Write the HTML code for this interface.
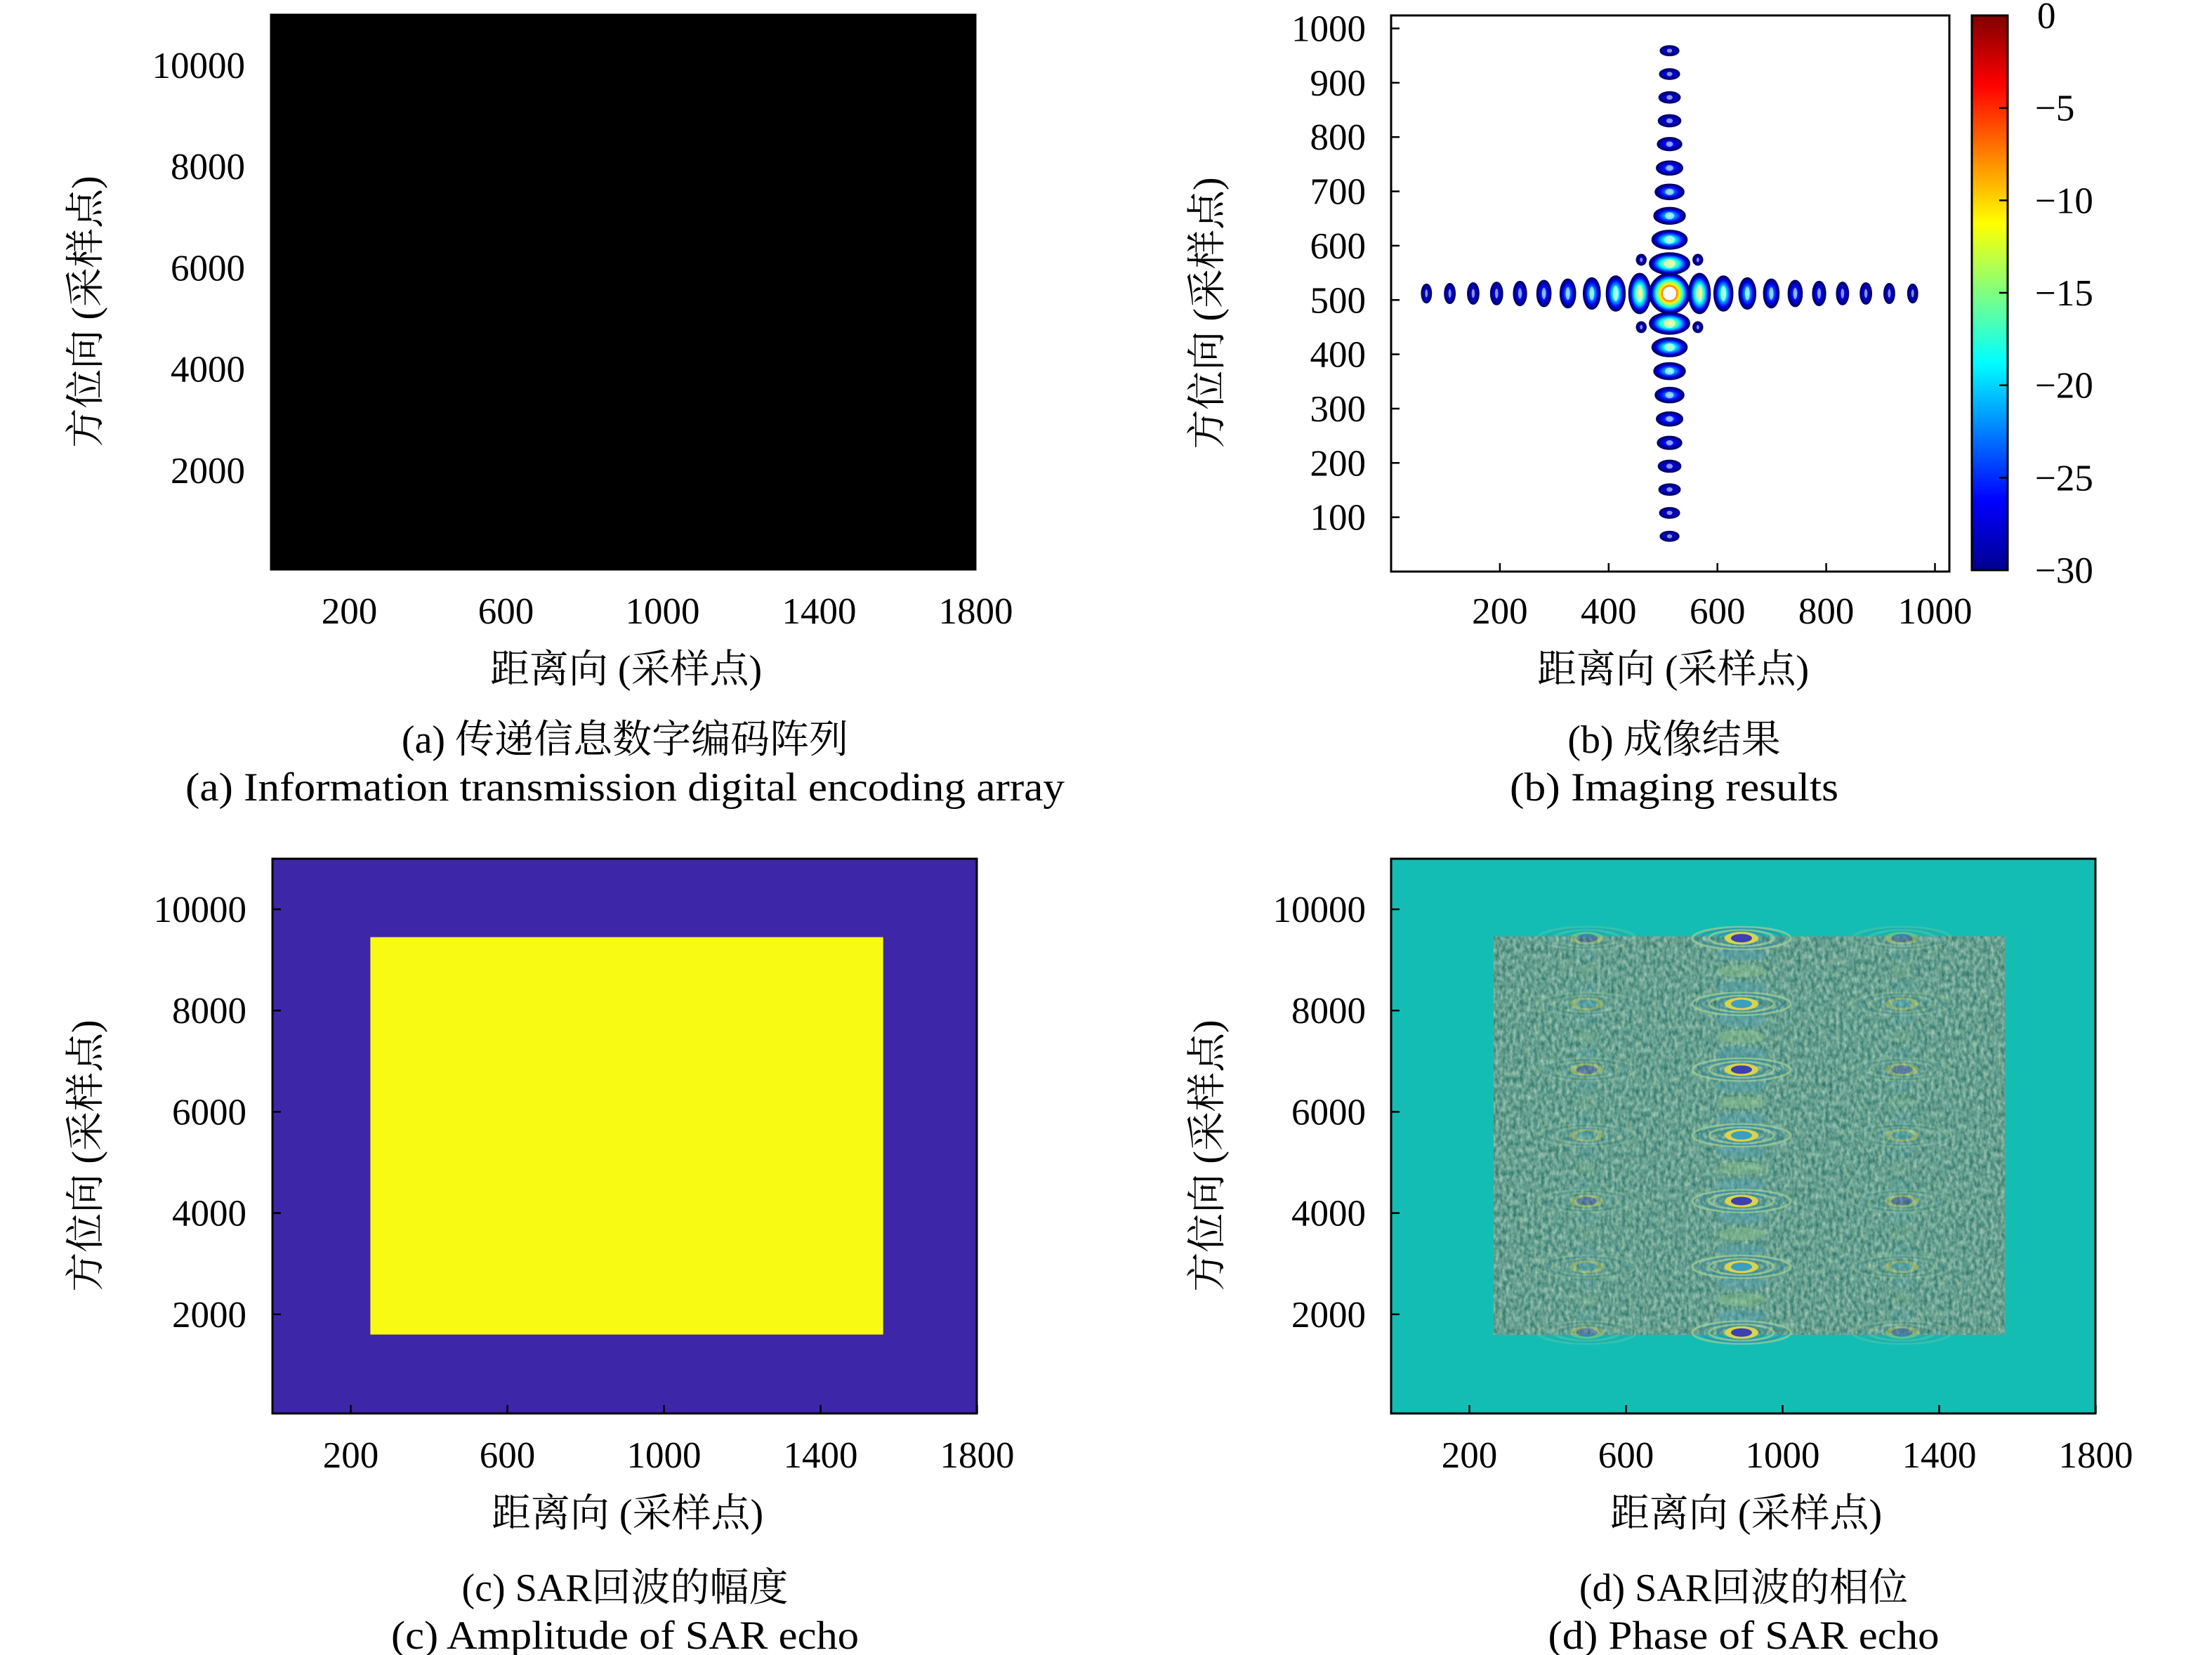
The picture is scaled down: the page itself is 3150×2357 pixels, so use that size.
<!DOCTYPE html>
<html><head><meta charset="utf-8"><style>
html,body{margin:0;padding:0;background:#fff;}
svg{display:block;}
text{font-family:"Liberation Serif","Noto Serif CJK SC",serif;fill:#000;}
</style></head><body>
<svg id="fig" xmlns="http://www.w3.org/2000/svg" width="3150" height="2357" viewBox="0 0 3150 2357">
<defs>
<linearGradient id="jetGrad" x1="0" y1="1" x2="0" y2="0">
<stop offset="0" stop-color="#00008f"/><stop offset="0.125" stop-color="#0000ff"/><stop offset="0.375" stop-color="#00ffff"/><stop offset="0.625" stop-color="#ffff00"/><stop offset="0.875" stop-color="#ff0000"/><stop offset="1" stop-color="#800000"/>
</linearGradient>
<filter id="noise" x="0" y="0" width="100%" height="100%" filterUnits="objectBoundingBox" color-interpolation-filters="sRGB">
<feTurbulence type="fractalNoise" baseFrequency="0.2 0.12" numOctaves="2" seed="3"/>
<feColorMatrix type="matrix" values="0.6 0 0 0 0.1  0.45 0 0 0 0.4  0.4 0 0 0 0.36  0 0 0 0 1"/>
</filter>
</defs>
<g id="root"></g>
</svg>
<script>
// ---- data ----
const bigXTicks=[200,600,1000,1400,1800];
const bigYTicks=[2000,4000,6000,8000,10000];
const bXTicks=[200,400,600,800,1000];
const bYTicks=[100,200,300,400,500,600,700,800,900,1000];
const cbTicks=[0,-5,-10,-15,-20,-25,-30];
const targetCenter=[512,512];
const lobeOffsets=[55,99,143,187,231,275,318,361,404,447];
const lobePeaks=[-12,-16,-19,-21,-23,-24.5,-26,-27,-28,-29];
const diagOffsets=[[52,62],[-52,62],[52,-62],[-52,-62]];
const diagPeak=-28;
const ampX=[250,1560];
const ampY=[1600,9450];
const phaseX=[262,1568];
const phaseY=[1600,9460];
const phaseRows=[9430,8132,6833,5535,4237,2938,1640];
const phaseCols=[500,895,1305];
const phaseColStrength=[0.35,1,0.35];

const NS='http://www.w3.org/2000/svg';
const root=document.getElementById('root');
function el(tag,attrs,parent,txt){const e=document.createElementNS(NS,tag);for(const k in attrs)e.setAttribute(k,attrs[k]);if(txt!==undefined)e.textContent=txt;(parent||root).appendChild(e);return e;}
function jet(v){
  let t=Math.max(0,Math.min(1,(v+30)/30));
  const f=(x)=>Math.max(0,Math.min(1,x));
  const r=f(1.5-Math.abs(4*t-3)), g=f(1.5-Math.abs(4*t-2)), b=f(1.5-Math.abs(4*t-1));
  return 'rgb('+Math.round(r*255)+','+Math.round(g*255)+','+Math.round(b*255)+')';
}

function makeBigPanel(ox,oy){
  return {x0:ox,x1:ox+1003,y0:oy,y1:oy+790,
    sx:v=>ox+v*0.5575, sy:v=>oy+793-v*0.0721};
}
const PA=makeBigPanel(386,21), PC=makeBigPanel(388,1223), PD=makeBigPanel(1981,1223);
const PB={x0:1981,x1:2776,y0:22,y1:814,sx:v=>1981+v*0.7745,sy:v=>814-v*0.7735};

function axesText(P,xt,yt,tickLen,xTickY,yLabX,name,xTitleY,yTitleX){
  const g=el('g',{});
  
  
  xt.forEach(v=>{
    const t=el('text',{x:P.sx(v),y:xTickY,'font-size':53,'text-anchor':'middle'},g,String(v));
    
    
    if(tickLen){const l=el('line',{x1:P.sx(v),x2:P.sx(v),y1:P.y1,y2:P.y1-tickLen,stroke:'#000','stroke-width':2.5},g);
      
      }
  });
  yt.forEach(v=>{
    const t=el('text',{x:yLabX,y:P.sy(v)+18,'font-size':53,'text-anchor':'end'},g,String(v));
    
    
    if(tickLen){const l=el('line',{x1:P.x0,x2:P.x0+tickLen,y1:P.sy(v),y2:P.sy(v),stroke:'#000','stroke-width':2.5},g);
      
      }
  });
  const cx=(P.x0+P.x1)/2, cy=(P.y0+P.y1)/2+28;
  const xt2=el('text',{x:cx+4,y:xTitleY,'font-size':56,'text-anchor':'middle'},g,'距离向 (采样点)');
  
  
  const yt2=el('text',{x:yTitleX,y:cy,'font-size':56,'text-anchor':'middle',transform:'rotate(-90 '+yTitleX+' '+cy+')'},g,'方位向 (采样点)');
  
  
  const b=el('rect',{x:P.x0,y:P.y0,width:P.x1-P.x0,height:P.y1-P.y0,fill:'none',stroke:'#000','stroke-width':3},g);
  
  
}
function captions(cx,y1,y2,l1,l2,name,len2){
  const a=el('text',{x:cx,y:y1,'font-size':56,'text-anchor':'middle'},root,l1);
  
  
  const b=el('text',{x:cx,y:y2,'font-size':57,'text-anchor':'middle',textLength:len2,lengthAdjust:'spacingAndGlyphs'},root,l2);
  
  
}

// ---- panel a ----
const ra=el('rect',{x:PA.x0,y:PA.y0,width:1003,height:790,fill:'#000'});


axesText(PA,bigXTicks,bigYTicks,0,888,349,'panel-a',972,141);
captions(890,1072,1140,'(a) 传递信息数字编码阵列','(a) Information transmission digital encoding array','panel-a',1252);

// ---- panel b ----
const gb=el('g',{});


function lobe(cxD,cyD,rxD,ryD,peak,center){
  const cx=PB.sx(cxD), cy=PB.sy(cyD), rx=rxD*0.7745, ry=ryD*0.7735;
  const g=el('g',{},gb);
  
  
  el('ellipse',{cx,cy,rx,ry,fill:jet(-28),stroke:'#00006a','stroke-width':3},g);
  const span=peak+30; const n=Math.max(1,Math.round(span/1.5));
  for(let i=1;i<=n;i++){
    const lv=-30+span*i/n, s=1-i/(n+0.6);
    el('ellipse',{cx,cy,rx:rx*Math.pow(s,0.7),ry:ry*Math.pow(s,0.7),fill:jet(lv)},g);
  }
  if(center) el('ellipse',{cx,cy,rx:rx*0.35,ry:ry*0.35,fill:'#fff'},g);
  else el('ellipse',{cx,cy,rx:rx*0.3,ry:ry*0.45,fill:'#fff',opacity:0.55},g);
}
lobeOffsets.forEach((off,k)=>{
  const p=lobePeaks[k], f=(p+31)/19;
  const w=7+12*f, h=14+22*f;
  lobe(targetCenter[0]+off,targetCenter[1],w,h,p);
  lobe(targetCenter[0]-off,targetCenter[1],w,h,p);
  lobe(targetCenter[0],targetCenter[1]+off,h,w,p);
  lobe(targetCenter[0],targetCenter[1]-off,h,w,p);
});
diagOffsets.forEach(d=>lobe(targetCenter[0]+d[0],targetCenter[1]+d[1],8,9,diagPeak));
lobe(targetCenter[0],targetCenter[1],36,36,0,true);
axesText(PB,bXTicks,bYTicks,12,888,1945,'panel-b',972,1738);
const CB={x0:2808,x1:2859,y0:22,y1:812};
const cbr=el('rect',{x:CB.x0,y:CB.y0,width:CB.x1-CB.x0,height:CB.y1-CB.y0,fill:'url(#jetGrad)',stroke:'#000','stroke-width':3});


cbTicks.forEach(v=>{
  const y=CB.y0+(0-v)/30*(CB.y1-CB.y0);
  const l=el('line',{x1:CB.x1-12,x2:CB.x1,y1:y,y2:y,stroke:'#000','stroke-width':2.5});
  
  
  const t=el('text',{x:v===0?2901:2898,y:y+18,'font-size':53},root,v===0?'0':'\u2212'+Math.abs(v));
  
  
});
captions(2384,1072,1140,'(b) 成像结果','(b) Imaging results','panel-b',468);

// ---- panel c ----
const rc=el('rect',{x:PC.x0,y:PC.y0,width:1003,height:790,fill:'#3e26a8'});


const yc=el('rect',{x:PC.sx(ampX[0]),y:PC.sy(ampY[1]),width:PC.sx(ampX[1])-PC.sx(ampX[0]),height:PC.sy(ampY[0])-PC.sy(ampY[1]),fill:'#f8fa14'});


axesText(PC,bigXTicks,bigYTicks,12,2090,351,'panel-c',2174,141);
captions(890,2280,2348,'(c) SAR回波的幅度','(c) Amplitude of SAR echo','panel-c',666);

// ---- panel d ----
const rd=el('rect',{x:PD.x0,y:PD.y0,width:1003,height:790,fill:'#14bdb4'});


const nx=PD.sx(phaseX[0]), ny=PD.sy(phaseY[1]), nw=PD.sx(phaseX[1])-nx, nh=PD.sy(phaseY[0])-ny;
const nd=el('rect',{x:nx,y:ny,width:nw,height:nh,fill:'#64a594',filter:'url(#noise)'});


const gd=el('g',{});


phaseCols.forEach((c,ci)=>{
  const s=phaseColStrength[ci];
  const cx=PD.sx(c);
  for(let i=0;i<phaseRows.length-1;i++){
    for(let j=1;j<4;j++){
      const yv=phaseRows[i]+(phaseRows[i+1]-phaseRows[i])*j/4;
      const e=el('ellipse',{cx,cy:PD.sy(yv),rx:30*s+6,ry:9,fill:j%2?'#4f9fb0':'#8cc08a',opacity:0.45*s},gd);
      
      
    }
  }
  phaseRows.forEach((r,ri)=>{
    const cy=PD.sy(r);
    const g=el('g',{opacity:s},gd);
    
    
    for(let k=4;k>=1;k--) el('ellipse',{cx,cy,rx:22+k*12,ry:7+k*2.2,fill:'none',stroke:k%2?'#3c8ba0':'#9fcf98','stroke-width':3,opacity:0.7},g);
    el('ellipse',{cx,cy,rx:24,ry:9,fill:'#d9d44c'},g);
    el('ellipse',{cx,cy,rx:15,ry:6,fill:ri%2?'#3a9fc0':'#3d3fb2'},g);
  });
});
axesText(PD,bigXTicks,bigYTicks,12,2090,1945,'panel-d',2174,1738);
captions(2483,2280,2348,'(d) SAR回波的相位','(d) Phase of SAR echo','panel-d',557);
</script>
</body></html>
